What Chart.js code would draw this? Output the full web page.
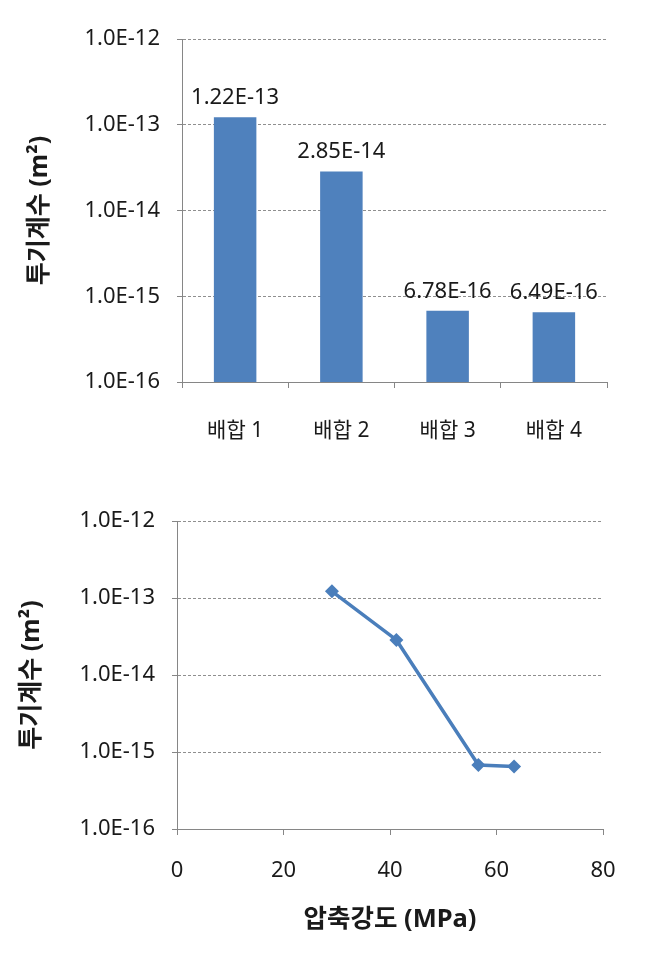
<!DOCTYPE html>
<html>
<head>
<meta charset="utf-8">
<script src="https://cdn.jsdelivr.net/npm/chart.js@4/dist/chart.umd.min.js"></script>
<style>
    html, body { margin: 0; padding: 0; background: #fff; }
    #wrap { position: relative; width: 659px; height: 968px; }
    canvas { position: absolute; left: 0; }
    #barChart { top: 0; }
    #lineChart { top: 470px; }
</style>
</head>
<body>
<div id="wrap">
    <canvas id="barChart" width="659" height="470"></canvas>
    <canvas id="lineChart" width="659" height="498"></canvas>
</div>
<script>
// Permeability per mix, and the compressive strength of the same mixes.
const mixLabels = ['배합 1', '배합 2', '배합 3', '배합 4'];
const permeability = [1.22e-13, 2.85e-14, 6.78e-16, 6.49e-16];
const strength = [29.1, 41.2, 56.6, 63.3];

const yTicks = [1e-16, 1e-15, 1e-14, 1e-13, 1e-12];
const yTickLabels = ['1.0E-16', '1.0E-15', '1.0E-14', '1.0E-13', '1.0E-12'];
const xTicks = [0, 20, 40, 60, 80];

const yTitle = '투기계수 (m²)';
const xTitle = '압축강도 (MPa)';

const FONT = '"Noto Sans", "Noto Sans CJK KR", sans-serif';
const BLUE = '#4f81bd';
const LINE_BLUE = '#4a7ebb';
const AXIS = '#868686';
const GRID = '#8f8f8f';
const TEXT = '#1a1a1a';

Chart.defaults.font.family = FONT;
Chart.defaults.color = TEXT;

// No datalabels plugin offline, so the value labels over the bars are drawn here.
const barValueLabels = {
    id: 'barValueLabels',
    afterDatasetsDraw(chart) {
        const { ctx } = chart;
        const meta = chart.getDatasetMeta(0);
        ctx.save();
        ctx.font = `22px ${FONT}`;
        ctx.fillStyle = TEXT;
        ctx.textAlign = 'center';
        ctx.textBaseline = 'alphabetic';
        meta.data.forEach((bar, i) => {
            const text = permeability[i].toExponential(2).toUpperCase();
            ctx.fillText(text, bar.x, bar.y - 13);
        });
        ctx.restore();
    },
};

function logAxis(width, titlePad) {
    return {
        type: 'logarithmic',
        min: yTicks[0],
        max: yTicks[yTicks.length - 1],
        afterBuildTicks: (scale) => {
            scale.ticks = yTicks.map((v) => ({ value: v }));
        },
        afterFit: (scale) => {
            scale.width = width;
        },
        ticks: {
            padding: 17,
            font: { size: 22 },
            color: TEXT,
            callback: (value, index) => yTickLabels[index],
        },
        grid: {
            color: GRID,
            lineWidth: 1,
            drawTicks: true,
            tickLength: 5,
            tickColor: AXIS,
            tickBorderDash: [],
        },
        border: { display: true, color: AXIS, width: 1, dash: [3, 2] },
        title: {
            display: true,
            text: yTitle,
            font: { size: 25, weight: 'bold' },
            color: TEXT,
            padding: { top: titlePad, bottom: 0 },
        },
    };
}

new Chart(document.getElementById('barChart'), {
    type: 'bar',
    data: {
        labels: mixLabels,
        datasets: [{
            data: permeability,
            backgroundColor: BLUE,
            borderWidth: 0,
            categoryPercentage: 1,
            barPercentage: 0.4,
        }],
    },
    options: {
        responsive: false,
        animation: false,
        devicePixelRatio: 1,
        layout: { padding: { top: 39, right: 52, left: 0, bottom: 0 } },
        plugins: { legend: { display: false }, tooltip: { enabled: false } },
        scales: {
            x: {
                offset: true,
                afterFit: (scale) => {
                    scale.height = 88;
                },
                ticks: { padding: 30, font: { size: 21 }, color: TEXT, maxRotation: 0 },
                grid: {
                    offset: true,
                    drawOnChartArea: false,
                    drawTicks: true,
                    tickLength: 6,
                    tickColor: AXIS,
                },
                border: { display: true, color: AXIS, width: 1 },
            },
            y: logAxis(182, 25),
        },
    },
    plugins: [barValueLabels],
});

new Chart(document.getElementById('lineChart'), {
    type: 'scatter',
    data: {
        datasets: [{
            data: strength.map((x, i) => ({ x, y: permeability[i] })),
            showLine: true,
            borderColor: LINE_BLUE,
            borderWidth: 3.5,
            backgroundColor: LINE_BLUE,
            pointStyle: 'rectRot',
            pointRadius: 7,
            pointBorderWidth: 0,
            tension: 0,
        }],
    },
    options: {
        responsive: false,
        animation: false,
        devicePixelRatio: 1,
        layout: { padding: { top: 51, right: 56, left: 0, bottom: 0 } },
        plugins: { legend: { display: false }, tooltip: { enabled: false } },
        scales: {
            x: {
                type: 'linear',
                min: xTicks[0],
                max: xTicks[xTicks.length - 1],
                afterBuildTicks: (scale) => {
                    scale.ticks = xTicks.map((v) => ({ value: v }));
                },
                afterFit: (scale) => {
                    scale.height = 139;
                },
                ticks: { padding: 23, font: { size: 22 }, color: TEXT, maxRotation: 0 },
                grid: {
                    drawOnChartArea: false,
                    drawTicks: true,
                    tickLength: 6,
                    tickColor: AXIS,
                },
                border: { display: true, color: AXIS, width: 1 },
                title: {
                    display: true,
                    text: xTitle,
                    font: { size: 25.5, weight: 'bold' },
                    color: TEXT,
                    padding: { top: 0, bottom: 33 },
                },
            },
            y: logAxis(177, 17),
        },
    },
});
</script>
</body>
</html>
